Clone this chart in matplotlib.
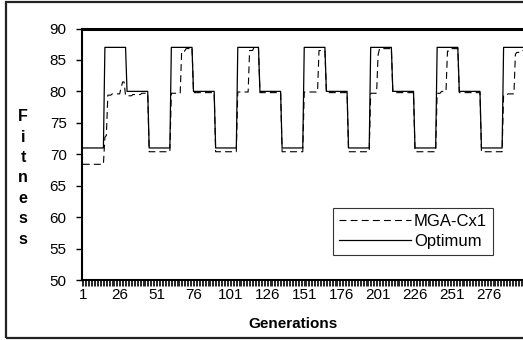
import numpy as np
import matplotlib
matplotlib.use("Agg")
import matplotlib.pyplot as plt
from matplotlib.patches import Rectangle

plt.rcParams['font.family'] = ['Liberation Sans', 'DejaVu Sans']
plt.rcParams['lines.scale_dashes'] = False

# generations 1..300
generations = np.arange(1, 301)

# Optimum: run-length levels (value, number of generations)
opt_values = [71, 87, 80, 71, 87, 80, 71, 87, 80, 71,
              87, 80, 71, 87, 80, 71, 87, 80, 71, 87]
opt_lengths = [15, 15, 15, 15, 15, 15, 15, 15, 15, 15,
               15, 15, 15, 15, 15, 15, 15, 15, 15, 15]

# MGA-Cx1: run-length levels
mga_values = [68.4, 72.7, 73.0, 79.4, 79.6, 80.6, 81.5, 79.3, 79.5, 79.7,
              70.4, 79.7, 86.4, 86.8, 87.0,
              79.8, 70.4, 79.9, 86.5, 87.0,
              79.8, 70.4, 79.9, 86.5,
              79.8, 70.4, 79.7, 85.8, 86.8,
              79.8, 70.4, 79.7, 80.0, 86.4, 86.8,
              79.8, 70.4, 79.4, 79.6, 85.9, 86.2, 86.5]
mga_lengths = [15, 1, 1, 3, 6, 1, 2, 5, 6, 5,
               15, 7, 3, 3, 2,
               15, 15, 8, 3, 4,
               15, 15, 10, 5,
               15, 15, 5, 1, 9,
               15, 15, 3, 4, 2, 6,
               15, 15, 3, 5, 1, 3, 3]

optimum = np.repeat(opt_values, opt_lengths)
mga = np.repeat(mga_values, mga_lengths)

yticks = [50, 55, 60, 65, 70, 75, 80, 85, 90]
xlabels = [1, 26, 51, 76, 101, 126, 151, 176, 201, 226, 251, 276]

W, H = 523, 340
fig = plt.figure(figsize=(W / 100, H / 100), dpi=100)
fig.patch.set_facecolor('white')

# outer chart border (right side runs off the image)
fig.patches.append(Rectangle((6 / W, 1 - 338 / H), 1.2, (338 - 2) / H,
                             transform=fig.transFigure, fill=False,
                             edgecolor='#222222', linewidth=1.6))

ax = fig.add_axes([82 / W, (H - 280) / H, (525 - 82) / W, (280 - 28.5) / H])
ax.plot(generations, mga, color='black', linewidth=0.8,
        dashes=(5, 3), label='MGA-Cx1')
ax.plot(generations, optimum, color='black', linewidth=0.9,
        label='Optimum')

ax.set_xlim(0.5, 300.5)
ax.set_ylim(50, 90)
ax.set_yticks(yticks)
ax.set_yticklabels([str(v) for v in yticks], fontsize=11)
ax.set_xticks(np.arange(0.5, 301, 1))
ax.set_xticklabels([])
ax.set_xticks(xlabels, minor=True)
ax.set_xticklabels([str(v) for v in xlabels], minor=True, fontsize=11)
ax.tick_params(axis='x', which='major', direction='out', length=4.5,
               width=0.6, color='black')
ax.tick_params(axis='x', which='minor', length=0, pad=6)
ax.tick_params(axis='y', direction='out', length=4, width=1, pad=7)

for side in ['left', 'bottom']:
    ax.spines[side].set_linewidth(1.5)
ax.spines['top'].set_linewidth(2.2)
ax.spines['right'].set_visible(False)

fig.text(23 / W, 1 - 178 / H, "F\ni\nt\nn\ne\ns\ns", fontsize=11.5,
         fontweight='bold', ha='center', va='center', linespacing=1.45)
fig.text(293 / W, 1 - 324 / H, "Generations", fontsize=11,
         fontweight='bold', ha='center', va='center')

leg = ax.legend(loc='upper left', bbox_to_anchor=(333 / W, 1 - 208 / H),
                bbox_transform=fig.transFigure, fontsize=12,
                frameon=True, fancybox=False, handlelength=4.3,
                handletextpad=0.2, borderpad=0.35, labelspacing=0.3,
                borderaxespad=0)
leg.get_frame().set_edgecolor('black')
leg.get_frame().set_linewidth(0.8)

fig.savefig("out.png", dpi=100)
